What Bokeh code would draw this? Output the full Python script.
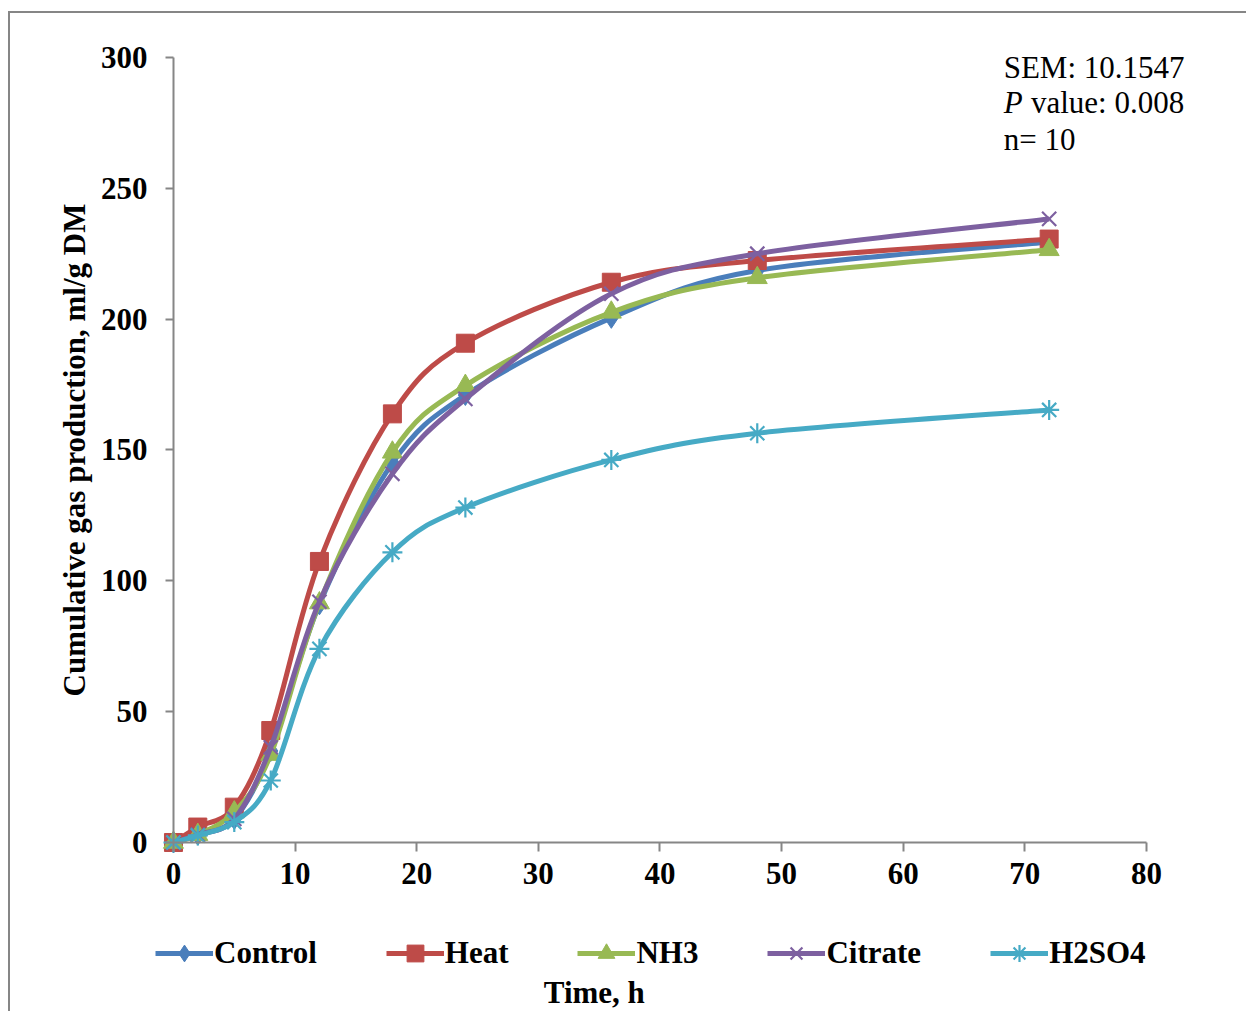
import numpy as np
from bokeh.plotting import figure
from bokeh.models import (FixedTicker, Legend, LegendItem, Label, ColumnDataSource)
from bokeh.embed import file_html
from bokeh.resources import INLINE

# ---------------- data ----------------
time_h = [0, 2, 5, 8, 12, 18, 24, 36, 48, 72]
control = [0, 3.0, 9.0, 35.0, 91.0, 145.0, 171.0, 200.5, 218.6, 229.5]
heat = [0, 5.9, 13.5, 42.8, 107.4, 163.8, 190.8, 214.1, 222.4, 230.6]
nh3 = [0, 3.0, 11.6, 33.6, 91.5, 149.1, 174.6, 202.6, 215.8, 226.5]
citrate = [0, 3.0, 9.0, 36.4, 92.0, 140.9, 169.5, 209.7, 225.0, 238.3]
h2so4 = [0, 2.7, 7.8, 23.7, 74.0, 110.9, 128.0, 146.2, 156.4, 165.3]

series_names = ["Control", "Heat", "NH3", "Citrate", "H2SO4"]
series_values = [control, heat, nh3, citrate, h2so4]
series_colors = ["#4A7EBB", "#BE4B48", "#98B954", "#7D60A0", "#46AAC5"]
series_markers = ["diamond", "square", "triangle", "x", "asterisk"]

x_ticks = [0, 10, 20, 30, 40, 50, 60, 70, 80]
y_ticks = [0, 50, 100, 150, 200, 250, 300]

FONT = "Liberation Serif"
AXIS_COLOR = "#868686"

# canvas sits at page offset (10, 13) inside a bordered box; the frame fills the canvas
p = figure(width=1238, height=1000, output_backend="svg", toolbar_location=None,
           x_range=(-13.40, 88.39), y_range=(-65.35, 316.8),
           min_border_left=0, min_border_right=0, min_border_top=0,
           min_border_bottom=0)
p.margin = (11, 0, 0, 8)
p.styles = {"border-left": "2px solid #868686", "border-top": "2px solid #868686"}
p.outline_line_color = None
p.xgrid.visible = False
p.ygrid.visible = False
p.background_fill_color = "white"
p.border_fill_color = "white"

for ax, ticks, bnds in ((p.xaxis[0], x_ticks, (0, 80)), (p.yaxis[0], y_ticks, (0, 300))):
    ax.ticker = FixedTicker(ticks=ticks)
    ax.bounds = bnds
    ax.fixed_location = 0
    ax.axis_line_color = AXIS_COLOR
    ax.axis_line_width = 2
    ax.major_tick_line_color = AXIS_COLOR
    ax.major_tick_line_width = 2
    ax.major_tick_in = 0
    ax.minor_tick_line_color = None
    ax.major_label_text_font = FONT
    ax.major_label_text_font_style = "bold"
    ax.major_label_text_font_size = "31px"
    ax.major_label_text_color = "black"

p.xaxis.major_tick_out = 9
p.xaxis.major_label_standoff = 12
p.yaxis.major_tick_out = 8
p.yaxis.major_label_standoff = 18
p.yaxis.axis_label = "Cumulative gas production, ml/g DM"
p.yaxis.axis_label_text_font = FONT
p.yaxis.axis_label_text_font_style = "bold"
p.yaxis.axis_label_text_font_size = "31px"
p.yaxis.axis_label_text_color = "black"
p.yaxis.axis_label_standoff = 6

# smoothed curves (Excel-style cubic Bezier through the data points)
def bezier_segments(xs, ys, t=1.0 / 6.0):
    x = np.asarray(xs, float)
    y = np.asarray(ys, float)
    n = len(x)
    xp = np.concatenate([[x[0]], x, [x[-1]]])
    yp = np.concatenate([[y[0]], y, [y[-1]]])
    i = np.arange(n - 1)
    cx0 = x[i] + (xp[i + 2] - xp[i]) * t
    cy0 = y[i] + (yp[i + 2] - yp[i]) * t
    cx1 = x[i + 1] - (xp[i + 3] - xp[i + 1]) * t
    cy1 = y[i + 1] - (yp[i + 3] - yp[i + 1]) * t
    return dict(x0=x[:-1], y0=y[:-1], x1=x[1:], y1=y[1:],
                cx0=cx0, cy0=cy0, cx1=cx1, cy1=cy1)

marker_sizes = {"diamond": 21, "square": 18, "triangle": 20, "x": 20, "asterisk": 20}

items = []
for name, vals, col, mk in zip(series_names, series_values, series_colors, series_markers):
    seg = ColumnDataSource(bezier_segments(time_h, vals))
    p.bezier(x0="x0", y0="y0", x1="x1", y1="y1", cx0="cx0", cy0="cy0",
             cx1="cx1", cy1="cy1", source=seg, line_color=col, line_width=5)
    leg_line = p.line(x=[np.nan], y=[np.nan], line_color=col, line_width=5)
    if mk in ("x", "asterisk"):
        sc = p.scatter(time_h, vals, marker=mk, size=marker_sizes[mk], line_color=col,
                       line_width=2.2, fill_color=None)
    else:
        sc = p.scatter(time_h, vals, marker=mk, size=marker_sizes[mk],
                       line_color=col, fill_color=col, line_width=1)
    items.append(LegendItem(label=name, renderers=[leg_line, sc]))

legend = Legend(items=items, orientation="horizontal", location=(145, 39),
                label_text_font=FONT, label_text_font_style="bold",
                label_text_font_size="31px", label_text_color="black",
                glyph_width=58, glyph_height=42, label_standoff=1,
                spacing=69, padding=0, margin=0,
                border_line_color=None, background_fill_alpha=0)
p.add_layout(legend, "center")

# x axis title below the legend
p.add_layout(Label(x=34.6, y=-57.3, text="Time, h", text_font=FONT,
                   text_font_style="bold", text_font_size="31px",
                   text_align="center", text_baseline="middle", text_color="black"))

# annotation text
ann_font = "31px"
p.add_layout(Label(x=68.26, y=296.0, text="SEM: 10.1547", text_font=FONT,
                   text_font_size=ann_font, text_baseline="middle", text_color="black"))
p.add_layout(Label(x=68.26, y=282.8, text="P", text_font=FONT, text_font_style="italic",
                   text_font_size=ann_font, text_baseline="middle", text_color="black"))
p.add_layout(Label(x=70.5, y=282.8, text="value: 0.008", text_font=FONT,
                   text_font_size=ann_font, text_baseline="middle", text_color="black"))
p.add_layout(Label(x=68.26, y=268.6, text="n= 10", text_font=FONT,
                   text_font_size=ann_font, text_baseline="middle", text_color="black"))

open("out.html", "w").write(file_html(p, INLINE))
